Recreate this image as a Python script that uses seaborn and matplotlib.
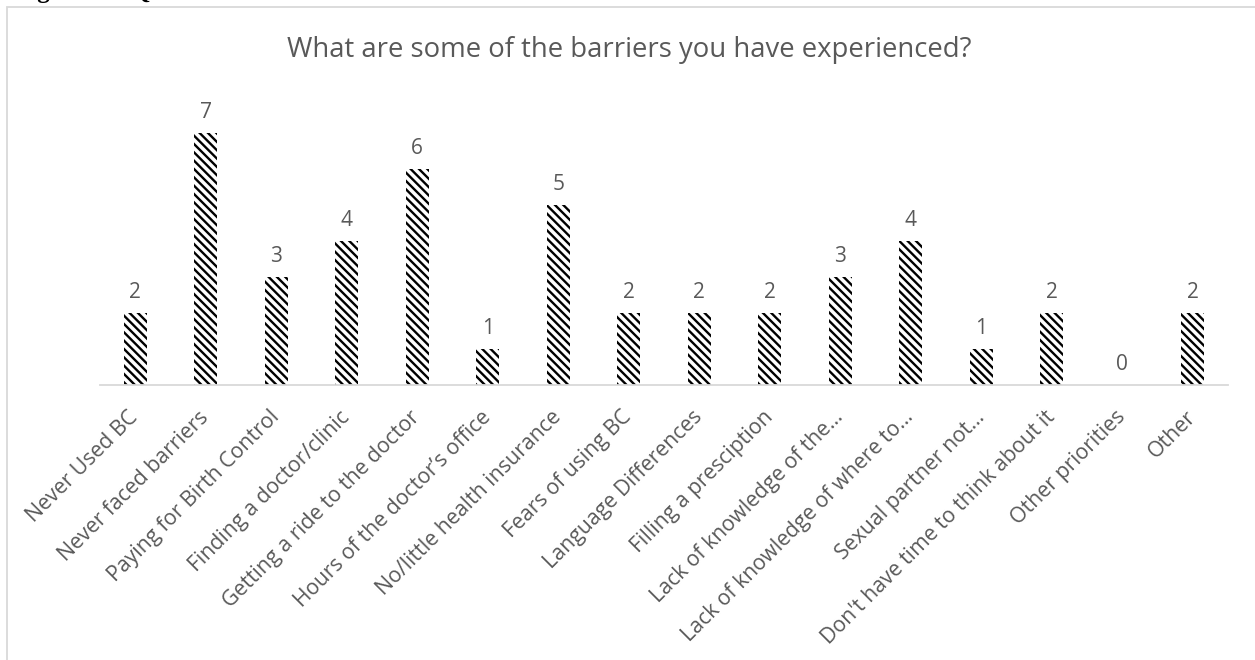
import matplotlib
matplotlib.use("Agg")
import matplotlib.pyplot as plt
import seaborn as sns
import pandas as pd
from matplotlib.patches import Rectangle

# Survey responses: barriers to birth control access
categories = [
    "Never Used BC",
    "Never faced barriers",
    "Paying for Birth Control",
    "Finding a doctor/clinic",
    "Getting a ride to the doctor",
    "Hours of the doctor\u2019s office",
    "No/little health insurance",
    "Fears of using BC",
    "Language Differences",
    "Filling a presciption",
    "Lack of knowledge of the\u2026",
    "Lack of knowledge of where to\u2026",
    "Sexual partner not\u2026",
    "Don't have time to think about it",
    "Other priorities",
    "Other",
]
counts = [2, 7, 3, 4, 6, 1, 5, 2, 2, 2, 3, 4, 1, 2, 0, 2]

title = "What are some of the barriers you have experienced?"
caption = "Figure 10: Question 10"

sns.set_theme(style="white")
plt.rcParams["font.family"] = ["Open Sans", "DejaVu Sans"]
plt.rcParams["hatch.linewidth"] = 1.7
plt.rcParams["hatch.color"] = "black"

HATCH = "\\\\\\\\"

W, H = 1255, 660
fig = plt.figure(figsize=(W / 100, H / 100), dpi=100)
ax = fig.add_axes([100 / W, 1 - 385 / H, 1128 / W, 288 / H])

df = pd.DataFrame({"barrier": categories, "count": counts})
sns.barplot(data=df, x="barrier", y="count", order=categories, ax=ax,
            color="white", edgecolor="black", linewidth=0, width=0.32,
            hatch=HATCH)

for patch in ax.patches:
    patch.set_hatch(HATCH)
    patch.set_edgecolor("black")
    patch.set_linewidth(0)

label_color = "#595959"
for i, v in enumerate(counts):
    ax.annotate(str(v), (i, v), xytext=(0, 7), textcoords="offset points",
                ha="center", va="bottom", fontsize=15, color=label_color)

ax.set_xlim(-0.5, len(categories) - 0.5)
ax.set_ylim(0, 8)
ax.set_xlabel("")
ax.set_ylabel("")
ax.set_yticks([])
ax.tick_params(axis="x", length=0, pad=21)
ax.set_xticks(range(len(categories)))
ax.set_xticklabels(categories, rotation=45, ha="right", va="center",
                   rotation_mode="anchor", fontsize=15.3, color=label_color)
for side in ("left", "right", "top"):
    ax.spines[side].set_visible(False)
ax.spines["bottom"].set_color("#d9d9d9")
ax.spines["bottom"].set_linewidth(1.3)

fig.text(629 / W, 1 - 50 / H, title, ha="center", va="center",
         fontsize=19.8, color=label_color)

# chart-area frame
fig.patches.append(Rectangle((7 / W, -0.05), 1.2, 1 - 6.5 / H + 0.05,
                             transform=fig.transFigure, fill=False,
                             edgecolor="#d9d9d9", linewidth=1.3))

# caption of the page above the chart
fig.text(15 / W, 1 + 2 / H, caption, ha="left", va="baseline",
         fontsize=18, fontweight="bold", color="black",
         family=["Liberation Serif", "DejaVu Serif"])

fig.savefig("out.png", dpi=100)
